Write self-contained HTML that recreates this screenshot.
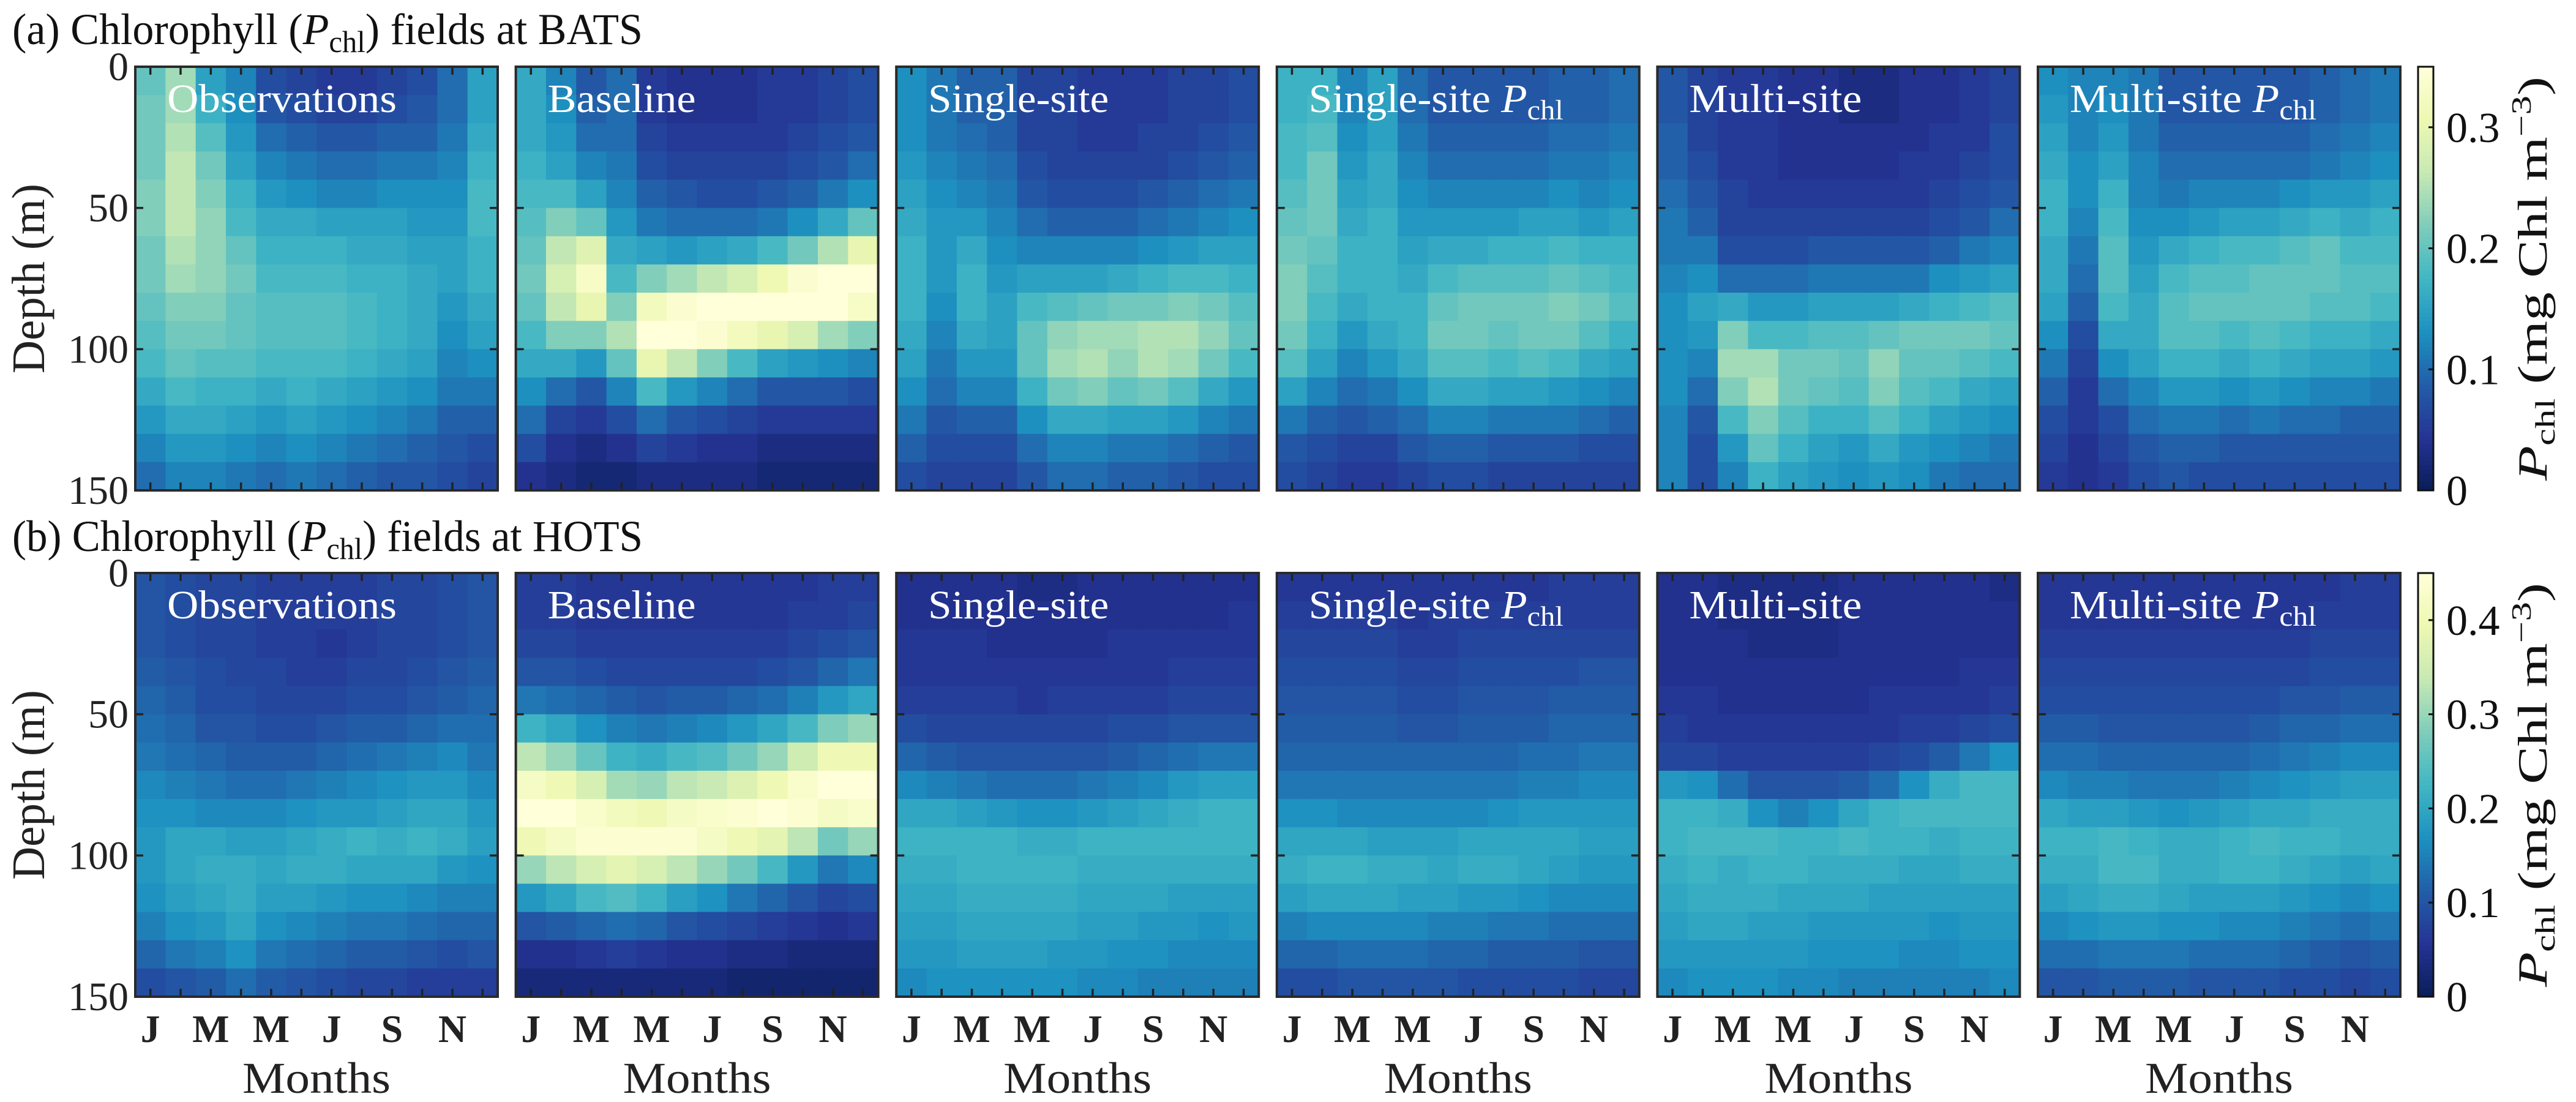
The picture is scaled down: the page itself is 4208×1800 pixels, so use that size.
<!DOCTYPE html>
<html><head><meta charset="utf-8">
<style>
html,body{margin:0;padding:0;background:#fff;}
svg{display:block;font-family:"Liberation Serif","DejaVu Serif",serif;}
</style></head>
<body>
<svg id="fig" width="4208" height="1800" viewBox="0 0 4208 1800" xmlns="http://www.w3.org/2000/svg">
<rect width="4208" height="1800" fill="#fff"/>
<text x="20" y="72" font-size="72" fill="#111" textLength="1030" lengthAdjust="spacingAndGlyphs">(a) Chlorophyll (<tspan font-style="italic">P</tspan><tspan font-size="50" dy="13">chl</tspan><tspan dy="-13">) fields at BATS</tspan></text>
<text x="20" y="900" font-size="72" fill="#111" textLength="1030" lengthAdjust="spacingAndGlyphs">(b) Chlorophyll (<tspan font-style="italic">P</tspan><tspan font-size="50" dy="13">chl</tspan><tspan dy="-13">) fields at HOTS</tspan></text>
<g id="plots"></g>
</svg>
<script>
const months = ["J","F","M","A","M","J","J","A","S","O","N","D"];
const monthTickLabels = ["J","M","M","J","S","N"];
const depthEdges = [0,10,20,30,40,50,60,70,80,90,100,110,120,130,140,150];
const depthTicks = [0,50,100,150];
const panelTitles = ["Observations","Baseline","Single-site","Single-site P","Multi-site","Multi-site P"];
const batsTicks = [0,0.1,0.2,0.3];
const hotsTicks = [0,0.1,0.2,0.3,0.4];
const batsMax = 0.35;
const hotsMax = 0.45;

// BATS fields: rows = depth bins (0-10 ... 140-150 m), columns = months J..D
const batsObs = [
[0.20,0.24,0.15,0.12,0.07,0.06,0.05,0.05,0.06,0.07,0.10,0.15],
[0.21,0.24,0.17,0.13,0.08,0.07,0.06,0.06,0.07,0.08,0.10,0.15],
[0.21,0.25,0.19,0.14,0.10,0.09,0.08,0.08,0.09,0.09,0.11,0.16],
[0.21,0.26,0.21,0.15,0.12,0.11,0.10,0.10,0.11,0.11,0.12,0.17],
[0.22,0.26,0.22,0.17,0.14,0.13,0.12,0.12,0.13,0.13,0.13,0.18],
[0.22,0.26,0.23,0.18,0.16,0.16,0.15,0.15,0.15,0.14,0.14,0.18],
[0.21,0.25,0.23,0.20,0.17,0.17,0.17,0.16,0.16,0.15,0.15,0.17],
[0.21,0.24,0.23,0.21,0.18,0.18,0.18,0.17,0.17,0.16,0.15,0.17],
[0.20,0.22,0.22,0.20,0.19,0.19,0.19,0.18,0.17,0.16,0.14,0.16],
[0.19,0.21,0.21,0.20,0.19,0.19,0.19,0.18,0.17,0.16,0.13,0.15],
[0.18,0.20,0.19,0.19,0.18,0.18,0.18,0.17,0.16,0.15,0.12,0.13],
[0.16,0.18,0.17,0.17,0.16,0.17,0.16,0.15,0.14,0.13,0.11,0.11],
[0.14,0.16,0.16,0.15,0.14,0.15,0.14,0.13,0.12,0.11,0.09,0.09],
[0.12,0.14,0.14,0.13,0.12,0.13,0.12,0.11,0.10,0.09,0.08,0.07],
[0.10,0.12,0.12,0.11,0.10,0.11,0.10,0.09,0.08,0.08,0.07,0.06]];
const batsBaseline = [
[0.16,0.12,0.08,0.10,0.05,0.04,0.04,0.04,0.05,0.05,0.06,0.07],
[0.16,0.13,0.09,0.10,0.05,0.04,0.04,0.04,0.05,0.05,0.06,0.07],
[0.16,0.14,0.10,0.10,0.06,0.05,0.05,0.05,0.05,0.06,0.07,0.08],
[0.17,0.15,0.12,0.11,0.07,0.06,0.06,0.06,0.06,0.07,0.08,0.10],
[0.18,0.18,0.15,0.12,0.09,0.08,0.07,0.07,0.08,0.09,0.11,0.13],
[0.19,0.22,0.20,0.14,0.11,0.10,0.10,0.10,0.11,0.13,0.16,0.20],
[0.20,0.26,0.29,0.16,0.15,0.14,0.15,0.16,0.18,0.21,0.25,0.30],
[0.21,0.28,0.33,0.18,0.22,0.24,0.26,0.28,0.31,0.34,0.35,0.35],
[0.20,0.26,0.30,0.22,0.32,0.34,0.35,0.35,0.35,0.35,0.35,0.33],
[0.18,0.22,0.22,0.25,0.35,0.35,0.34,0.32,0.30,0.28,0.24,0.22],
[0.16,0.16,0.14,0.20,0.30,0.26,0.22,0.18,0.15,0.14,0.13,0.12],
[0.13,0.10,0.08,0.12,0.18,0.14,0.12,0.10,0.08,0.08,0.08,0.07],
[0.10,0.06,0.05,0.07,0.10,0.08,0.07,0.06,0.05,0.05,0.05,0.05],
[0.07,0.04,0.03,0.04,0.06,0.05,0.04,0.04,0.03,0.03,0.03,0.03],
[0.04,0.03,0.02,0.02,0.03,0.03,0.03,0.03,0.02,0.02,0.02,0.02]];
const batsSingle = [
[0.13,0.11,0.09,0.09,0.06,0.06,0.05,0.05,0.05,0.06,0.06,0.07],
[0.13,0.11,0.09,0.09,0.06,0.06,0.05,0.05,0.05,0.06,0.06,0.07],
[0.13,0.11,0.10,0.09,0.06,0.06,0.05,0.05,0.06,0.06,0.07,0.08],
[0.14,0.12,0.11,0.10,0.07,0.06,0.06,0.06,0.06,0.07,0.08,0.09],
[0.15,0.13,0.12,0.11,0.08,0.07,0.07,0.07,0.08,0.09,0.10,0.11],
[0.16,0.14,0.14,0.12,0.10,0.09,0.09,0.09,0.10,0.11,0.12,0.13],
[0.17,0.14,0.16,0.13,0.12,0.12,0.12,0.12,0.13,0.14,0.15,0.15],
[0.17,0.14,0.17,0.14,0.15,0.15,0.15,0.16,0.17,0.18,0.18,0.17],
[0.17,0.13,0.17,0.15,0.18,0.19,0.20,0.21,0.21,0.22,0.21,0.19],
[0.16,0.12,0.16,0.15,0.20,0.23,0.24,0.24,0.25,0.25,0.23,0.20],
[0.15,0.11,0.14,0.14,0.20,0.24,0.25,0.23,0.25,0.24,0.21,0.18],
[0.13,0.10,0.12,0.12,0.17,0.21,0.22,0.20,0.21,0.19,0.16,0.14],
[0.11,0.08,0.09,0.09,0.13,0.16,0.16,0.15,0.15,0.14,0.12,0.11],
[0.09,0.07,0.07,0.07,0.10,0.12,0.12,0.11,0.11,0.10,0.09,0.08],
[0.07,0.06,0.06,0.06,0.08,0.10,0.10,0.09,0.09,0.08,0.07,0.07]];
const batsSinglePchl = [
[0.17,0.17,0.12,0.15,0.10,0.08,0.08,0.08,0.08,0.09,0.09,0.10],
[0.17,0.18,0.12,0.15,0.10,0.08,0.08,0.08,0.08,0.09,0.09,0.10],
[0.18,0.19,0.13,0.15,0.11,0.09,0.09,0.09,0.09,0.10,0.10,0.11],
[0.18,0.21,0.14,0.16,0.12,0.10,0.10,0.10,0.10,0.11,0.11,0.12],
[0.19,0.21,0.15,0.16,0.13,0.12,0.12,0.12,0.12,0.13,0.12,0.13],
[0.20,0.21,0.16,0.17,0.14,0.14,0.14,0.14,0.15,0.15,0.14,0.15],
[0.21,0.20,0.17,0.17,0.15,0.16,0.16,0.17,0.17,0.18,0.17,0.17],
[0.22,0.19,0.17,0.17,0.16,0.18,0.19,0.19,0.19,0.20,0.19,0.18],
[0.22,0.18,0.16,0.17,0.17,0.20,0.21,0.21,0.21,0.22,0.21,0.19],
[0.21,0.17,0.14,0.16,0.17,0.21,0.21,0.20,0.21,0.21,0.19,0.17],
[0.19,0.15,0.12,0.14,0.16,0.19,0.19,0.18,0.19,0.18,0.16,0.15],
[0.15,0.12,0.10,0.11,0.13,0.16,0.16,0.15,0.15,0.14,0.13,0.12],
[0.11,0.09,0.08,0.09,0.10,0.12,0.12,0.11,0.11,0.11,0.10,0.09],
[0.08,0.07,0.06,0.06,0.08,0.09,0.09,0.08,0.08,0.08,0.07,0.07],
[0.07,0.06,0.05,0.05,0.06,0.07,0.07,0.06,0.06,0.06,0.06,0.06]];
const batsMulti = [
[0.08,0.06,0.05,0.05,0.04,0.04,0.03,0.03,0.04,0.04,0.05,0.06],
[0.08,0.06,0.05,0.05,0.04,0.04,0.03,0.03,0.04,0.04,0.05,0.06],
[0.09,0.06,0.05,0.05,0.04,0.04,0.04,0.04,0.04,0.05,0.05,0.07],
[0.09,0.07,0.05,0.05,0.04,0.04,0.04,0.04,0.05,0.05,0.06,0.07],
[0.10,0.08,0.06,0.05,0.05,0.05,0.05,0.05,0.05,0.06,0.07,0.08],
[0.11,0.09,0.06,0.06,0.06,0.06,0.06,0.06,0.06,0.07,0.08,0.10],
[0.11,0.11,0.07,0.07,0.07,0.08,0.08,0.08,0.08,0.09,0.11,0.12],
[0.12,0.13,0.10,0.10,0.10,0.11,0.11,0.11,0.11,0.13,0.14,0.15],
[0.13,0.15,0.16,0.14,0.14,0.15,0.15,0.15,0.16,0.17,0.18,0.19],
[0.13,0.14,0.22,0.18,0.18,0.19,0.19,0.20,0.21,0.21,0.21,0.20],
[0.13,0.12,0.24,0.24,0.21,0.21,0.20,0.23,0.20,0.20,0.19,0.18],
[0.13,0.10,0.22,0.25,0.21,0.20,0.19,0.22,0.19,0.18,0.16,0.15],
[0.12,0.08,0.18,0.22,0.19,0.17,0.17,0.19,0.17,0.15,0.14,0.13],
[0.12,0.07,0.14,0.20,0.17,0.15,0.14,0.16,0.14,0.13,0.12,0.11],
[0.12,0.07,0.12,0.17,0.15,0.14,0.13,0.14,0.13,0.11,0.10,0.10]];
const batsMultiPchl = [
[0.13,0.12,0.12,0.11,0.08,0.08,0.08,0.08,0.08,0.09,0.10,0.11],
[0.14,0.12,0.13,0.11,0.08,0.08,0.08,0.08,0.08,0.09,0.10,0.11],
[0.15,0.12,0.14,0.11,0.09,0.09,0.09,0.09,0.09,0.10,0.11,0.12],
[0.16,0.13,0.15,0.12,0.10,0.10,0.10,0.10,0.10,0.11,0.12,0.13],
[0.17,0.13,0.17,0.12,0.11,0.12,0.12,0.12,0.13,0.14,0.14,0.15],
[0.17,0.12,0.18,0.13,0.13,0.14,0.15,0.15,0.16,0.17,0.16,0.17],
[0.16,0.11,0.19,0.14,0.16,0.17,0.18,0.18,0.19,0.20,0.18,0.18],
[0.16,0.10,0.19,0.15,0.18,0.19,0.19,0.20,0.20,0.20,0.19,0.19],
[0.15,0.09,0.18,0.16,0.19,0.20,0.20,0.20,0.20,0.19,0.19,0.18],
[0.13,0.07,0.16,0.16,0.19,0.19,0.18,0.19,0.18,0.17,0.17,0.16],
[0.11,0.06,0.13,0.15,0.17,0.17,0.16,0.17,0.16,0.15,0.15,0.14],
[0.09,0.05,0.10,0.12,0.14,0.14,0.13,0.14,0.13,0.12,0.12,0.11],
[0.07,0.05,0.07,0.10,0.11,0.11,0.10,0.11,0.10,0.10,0.09,0.09],
[0.06,0.04,0.06,0.08,0.09,0.09,0.08,0.08,0.08,0.08,0.08,0.08],
[0.05,0.04,0.05,0.07,0.08,0.07,0.07,0.07,0.07,0.07,0.07,0.07]];

// HOTS fields
const hotsObs = [
[0.10,0.09,0.08,0.08,0.07,0.07,0.07,0.07,0.08,0.08,0.09,0.10],
[0.10,0.09,0.08,0.08,0.07,0.07,0.07,0.07,0.08,0.08,0.09,0.10],
[0.10,0.09,0.08,0.08,0.07,0.07,0.06,0.07,0.08,0.08,0.09,0.10],
[0.11,0.10,0.09,0.08,0.08,0.07,0.07,0.08,0.08,0.09,0.10,0.11],
[0.12,0.11,0.09,0.09,0.08,0.08,0.08,0.09,0.09,0.10,0.11,0.12],
[0.13,0.12,0.10,0.10,0.09,0.09,0.10,0.11,0.11,0.12,0.13,0.13],
[0.14,0.13,0.12,0.11,0.11,0.11,0.12,0.13,0.14,0.15,0.16,0.14],
[0.16,0.15,0.14,0.13,0.13,0.14,0.15,0.16,0.17,0.18,0.18,0.16],
[0.17,0.17,0.16,0.16,0.16,0.17,0.18,0.18,0.19,0.20,0.20,0.18],
[0.18,0.20,0.20,0.19,0.19,0.20,0.21,0.22,0.21,0.22,0.21,0.19],
[0.18,0.20,0.21,0.21,0.20,0.21,0.21,0.20,0.20,0.20,0.18,0.17],
[0.17,0.19,0.20,0.21,0.19,0.19,0.18,0.17,0.17,0.16,0.15,0.15],
[0.15,0.17,0.18,0.20,0.17,0.16,0.15,0.14,0.14,0.13,0.12,0.12],
[0.12,0.14,0.15,0.17,0.14,0.13,0.12,0.11,0.11,0.10,0.09,0.10],
[0.09,0.10,0.11,0.13,0.11,0.10,0.09,0.08,0.08,0.07,0.07,0.07]];
const hotsBaseline = [
[0.07,0.07,0.06,0.06,0.06,0.06,0.06,0.06,0.06,0.06,0.07,0.07],
[0.07,0.07,0.06,0.06,0.06,0.06,0.06,0.06,0.06,0.07,0.07,0.08],
[0.08,0.08,0.07,0.07,0.07,0.07,0.07,0.07,0.07,0.08,0.09,0.10],
[0.10,0.10,0.09,0.08,0.08,0.08,0.08,0.08,0.09,0.10,0.12,0.14],
[0.14,0.13,0.12,0.11,0.10,0.11,0.11,0.12,0.13,0.15,0.18,0.20],
[0.22,0.20,0.17,0.15,0.14,0.15,0.16,0.18,0.20,0.23,0.28,0.30],
[0.33,0.30,0.26,0.22,0.21,0.23,0.24,0.27,0.30,0.35,0.40,0.40],
[0.42,0.40,0.36,0.31,0.30,0.33,0.34,0.37,0.40,0.43,0.45,0.45],
[0.45,0.45,0.43,0.41,0.40,0.42,0.43,0.44,0.45,0.44,0.42,0.43],
[0.40,0.42,0.44,0.44,0.44,0.44,0.42,0.40,0.38,0.33,0.27,0.30],
[0.30,0.33,0.36,0.38,0.36,0.33,0.30,0.27,0.23,0.18,0.14,0.16],
[0.18,0.20,0.23,0.24,0.22,0.19,0.17,0.14,0.12,0.10,0.08,0.09],
[0.10,0.11,0.12,0.13,0.12,0.10,0.09,0.08,0.07,0.06,0.05,0.06],
[0.05,0.05,0.06,0.07,0.06,0.05,0.05,0.04,0.04,0.03,0.03,0.03],
[0.03,0.03,0.03,0.03,0.03,0.03,0.03,0.02,0.02,0.02,0.02,0.02]];
const hotsSingle = [
[0.05,0.05,0.05,0.05,0.04,0.04,0.05,0.05,0.05,0.05,0.05,0.05],
[0.05,0.05,0.05,0.05,0.05,0.05,0.05,0.05,0.05,0.05,0.05,0.06],
[0.06,0.06,0.06,0.05,0.05,0.05,0.05,0.06,0.06,0.06,0.06,0.06],
[0.06,0.06,0.06,0.06,0.06,0.06,0.06,0.06,0.06,0.07,0.07,0.07],
[0.07,0.07,0.07,0.07,0.06,0.07,0.07,0.07,0.07,0.08,0.08,0.08],
[0.09,0.08,0.08,0.08,0.08,0.08,0.08,0.09,0.09,0.10,0.10,0.10],
[0.12,0.11,0.10,0.10,0.10,0.10,0.10,0.11,0.12,0.13,0.14,0.14],
[0.16,0.15,0.14,0.13,0.13,0.13,0.14,0.15,0.16,0.18,0.19,0.19],
[0.20,0.20,0.19,0.18,0.17,0.17,0.18,0.19,0.20,0.21,0.22,0.22],
[0.22,0.22,0.22,0.22,0.21,0.21,0.22,0.22,0.22,0.22,0.22,0.22],
[0.21,0.21,0.22,0.22,0.22,0.22,0.21,0.21,0.21,0.21,0.21,0.21],
[0.20,0.20,0.21,0.21,0.21,0.21,0.20,0.20,0.20,0.19,0.19,0.19],
[0.19,0.19,0.20,0.20,0.20,0.20,0.19,0.19,0.18,0.18,0.17,0.18],
[0.18,0.18,0.19,0.19,0.19,0.18,0.18,0.17,0.17,0.16,0.16,0.16],
[0.16,0.17,0.17,0.17,0.17,0.17,0.16,0.16,0.15,0.15,0.15,0.15]];
const hotsSinglePchl = [
[0.06,0.06,0.06,0.06,0.06,0.06,0.06,0.06,0.06,0.07,0.07,0.07],
[0.07,0.07,0.07,0.07,0.06,0.07,0.07,0.07,0.07,0.07,0.07,0.07],
[0.08,0.08,0.08,0.08,0.07,0.07,0.08,0.08,0.08,0.08,0.08,0.08],
[0.09,0.09,0.09,0.09,0.08,0.08,0.09,0.09,0.09,0.09,0.10,0.10],
[0.10,0.10,0.10,0.10,0.09,0.09,0.10,0.10,0.10,0.11,0.11,0.11],
[0.11,0.11,0.11,0.11,0.10,0.10,0.11,0.11,0.11,0.12,0.12,0.12],
[0.12,0.12,0.12,0.12,0.12,0.12,0.12,0.12,0.13,0.13,0.14,0.14],
[0.14,0.14,0.14,0.14,0.14,0.14,0.14,0.14,0.15,0.15,0.16,0.16],
[0.17,0.17,0.16,0.16,0.16,0.16,0.16,0.17,0.18,0.18,0.18,0.18],
[0.20,0.20,0.20,0.19,0.19,0.19,0.20,0.20,0.20,0.20,0.19,0.19],
[0.21,0.22,0.22,0.21,0.21,0.20,0.21,0.21,0.20,0.19,0.18,0.18],
[0.19,0.20,0.20,0.20,0.19,0.19,0.18,0.18,0.17,0.16,0.16,0.16],
[0.15,0.16,0.16,0.16,0.16,0.15,0.15,0.14,0.14,0.13,0.13,0.13],
[0.12,0.12,0.13,0.13,0.13,0.12,0.12,0.11,0.11,0.11,0.10,0.10],
[0.09,0.09,0.10,0.10,0.10,0.10,0.09,0.09,0.09,0.09,0.08,0.08]];
const hotsMulti = [
[0.05,0.05,0.04,0.04,0.04,0.04,0.05,0.05,0.05,0.05,0.05,0.04],
[0.05,0.05,0.04,0.04,0.04,0.04,0.05,0.05,0.05,0.05,0.05,0.05],
[0.05,0.05,0.05,0.04,0.04,0.04,0.05,0.05,0.05,0.05,0.05,0.05],
[0.05,0.05,0.05,0.05,0.05,0.05,0.05,0.05,0.05,0.05,0.06,0.06],
[0.06,0.06,0.05,0.05,0.05,0.05,0.05,0.06,0.06,0.06,0.06,0.07],
[0.07,0.06,0.06,0.06,0.06,0.06,0.06,0.06,0.07,0.07,0.08,0.09],
[0.08,0.08,0.07,0.07,0.07,0.07,0.07,0.08,0.09,0.11,0.14,0.17],
[0.18,0.17,0.13,0.10,0.10,0.10,0.11,0.13,0.17,0.21,0.23,0.23],
[0.22,0.22,0.21,0.17,0.15,0.17,0.20,0.22,0.23,0.23,0.23,0.23],
[0.22,0.23,0.23,0.23,0.22,0.22,0.23,0.22,0.22,0.21,0.22,0.22],
[0.21,0.22,0.21,0.22,0.22,0.21,0.21,0.21,0.20,0.20,0.21,0.21],
[0.20,0.21,0.21,0.21,0.20,0.20,0.20,0.19,0.19,0.19,0.19,0.19],
[0.19,0.20,0.20,0.19,0.19,0.18,0.18,0.18,0.18,0.17,0.18,0.18],
[0.18,0.18,0.18,0.18,0.18,0.17,0.17,0.17,0.16,0.16,0.17,0.17],
[0.16,0.17,0.17,0.17,0.16,0.16,0.15,0.15,0.15,0.15,0.15,0.16]];
const hotsMultiPchl = [
[0.06,0.06,0.06,0.06,0.06,0.06,0.06,0.06,0.06,0.06,0.07,0.07],
[0.06,0.06,0.06,0.06,0.06,0.06,0.06,0.06,0.06,0.07,0.07,0.07],
[0.07,0.07,0.07,0.07,0.07,0.07,0.07,0.07,0.07,0.08,0.08,0.08],
[0.08,0.08,0.08,0.08,0.08,0.08,0.08,0.08,0.08,0.09,0.09,0.09],
[0.09,0.09,0.09,0.09,0.09,0.09,0.09,0.09,0.10,0.10,0.11,0.11],
[0.11,0.11,0.10,0.10,0.10,0.10,0.10,0.11,0.12,0.12,0.13,0.13],
[0.13,0.13,0.12,0.12,0.12,0.12,0.12,0.13,0.14,0.15,0.16,0.16],
[0.16,0.15,0.15,0.14,0.14,0.14,0.15,0.16,0.17,0.18,0.19,0.19],
[0.20,0.19,0.19,0.18,0.17,0.18,0.19,0.20,0.20,0.21,0.21,0.21],
[0.22,0.22,0.23,0.22,0.21,0.21,0.22,0.23,0.22,0.22,0.21,0.21],
[0.21,0.21,0.23,0.23,0.21,0.21,0.22,0.22,0.21,0.20,0.19,0.20],
[0.19,0.20,0.21,0.21,0.20,0.19,0.19,0.19,0.18,0.17,0.16,0.17],
[0.16,0.17,0.18,0.18,0.17,0.17,0.16,0.16,0.15,0.14,0.13,0.14],
[0.13,0.13,0.14,0.14,0.14,0.13,0.13,0.13,0.12,0.11,0.10,0.11],
[0.10,0.10,0.11,0.11,0.11,0.10,0.10,0.10,0.09,0.09,0.08,0.09]];

const batsFields = [batsObs,batsBaseline,batsSingle,batsSinglePchl,batsMulti,batsMultiPchl];
const hotsFields = [hotsObs,hotsBaseline,hotsSingle,hotsSinglePchl,hotsMulti,hotsMultiPchl];

// layout
const NS = "http://www.w3.org/2000/svg";
const L = {x0:221, pitch:621.6, w:592, rows:[{top:109,h:692},{top:936,h:692}], cbX:3950, cbW:25};
const labelWidths = [375,242,295,416,282,403];
const stops = [[0,"#081d58"],[0.125,"#253494"],[0.25,"#225ea8"],[0.375,"#1d91c0"],[0.5,"#41b6c4"],[0.625,"#7fcdbb"],[0.75,"#c7e9b4"],[0.875,"#edf8b1"],[1,"#ffffd9"]];
function hex(c){return [parseInt(c.slice(1,3),16),parseInt(c.slice(3,5),16),parseInt(c.slice(5,7),16)];}
function cmap(t){
  t=Math.max(0,Math.min(1,t));
  for(let i=1;i<stops.length;i++){
    if(t<=stops[i][0]){
      const a=hex(stops[i-1][1]),b=hex(stops[i][1]);
      const f=(t-stops[i-1][0])/(stops[i][0]-stops[i-1][0]);
      return "rgb("+a.map((v,k)=>Math.round(v+(b[k]-v)*f)).join(",")+")";
    }
  }
  return stops[stops.length-1][1];
}
function el(tag,attrs,parent){const e=document.createElementNS(NS,tag);for(const k in attrs)e.setAttribute(k,attrs[k]);parent.appendChild(e);return e;}
const root=document.getElementById("plots");

[[batsFields,batsMax,batsTicks,"bats"],[hotsFields,hotsMax,hotsTicks,"hots"]].forEach((cfg,ri)=>{
  const [fields,vmax,cticks,site]=cfg;
  const R=L.rows[ri];
  const yScale=d=>R.top+d/150*R.h;
  fields.forEach((field,pi)=>{
    const px=L.x0+pi*L.pitch;
    const xScale=m=>px+m/12*L.w;
    const g=el("g",{},root);
    
    
    field.forEach((row,di)=>{
      row.forEach((v,mi)=>{
        const x1=xScale(mi),x2=xScale(mi+1),y1=yScale(depthEdges[di]),y2=yScale(depthEdges[di+1]);
        const r=el("rect",{x:x1,y:y1,width:x2-x1+0.6,height:y2-y1+0.6,fill:cmap(v/vmax)},g);
        
        
      });
    });
    for(let m=0;m<12;m++){
      const x=xScale(m+0.5);
      el("line",{x1:x,x2:x,y1:R.top,y2:R.top+13,stroke:"#222","stroke-width":3.5},g);
      el("line",{x1:x,x2:x,y1:R.top+R.h,y2:R.top+R.h-13,stroke:"#222","stroke-width":3.5},g);
    }
    depthTicks.forEach(d=>{
      const y=yScale(d);
      el("line",{x1:px,x2:px+13,y1:y,y2:y,stroke:"#222","stroke-width":3.5},g);
      el("line",{x1:px+L.w,x2:px+L.w-13,y1:y,y2:y,stroke:"#222","stroke-width":3.5},g);
    });
    const fr=el("rect",{x:px,y:R.top,width:L.w,height:R.h,fill:"none",stroke:"#2a2a2a","stroke-width":4},g);
    
    
    const t=el("text",{x:px+52,y:R.top+74,"font-size":66,fill:"#fff",textLength:labelWidths[pi],lengthAdjust:"spacingAndGlyphs"},g);
    
    
    if(pi===3||pi===5){
      t.textContent=panelTitles[pi].slice(0,-1);
      const ts=el("tspan",{"font-style":"italic"},t);ts.textContent="P";
      const ts2=el("tspan",{"font-size":46,dy:12},t);ts2.textContent="chl";
    } else t.textContent=panelTitles[pi];
    if(ri===1){
      monthTickLabels.forEach((lab,k)=>{
        const xt=el("text",{x:xScale(2*k+0.5),y:1702,"font-size":64,"text-anchor":"middle",fill:"#222","font-weight":"bold"},g);
        
        
        xt.textContent=lab;
      });
      const xl=el("text",{x:px+L.w/2,y:1785,"font-size":72,"text-anchor":"middle",fill:"#222",textLength:242,lengthAdjust:"spacingAndGlyphs"},g);
      
      
      xl.textContent="Months";
    }
  });
  depthTicks.forEach(d=>{
    const yt=el("text",{x:210,y:yScale(d)+22,"font-size":66,"text-anchor":"end",fill:"#222"},root);
    
    
    yt.textContent=d;
  });
  const cy=R.top+R.h/2;
  const ya=el("text",{x:0,y:0,"font-size":76,"text-anchor":"middle",fill:"#222",textLength:310,lengthAdjust:"spacingAndGlyphs",transform:"translate(72,"+cy+") rotate(-90)"},root);
  
  
  ya.textContent="Depth (m)";
  const cg=el("g",{},root);
  
  
  const N=100;
  for(let i=0;i<N;i++){
    const y1=R.top+R.h*(1-(i+1)/N);
    el("rect",{x:L.cbX,y:y1,width:L.cbW,height:R.h/N+0.6,fill:cmap((i+0.5)/N)},cg);
  }
  el("rect",{x:L.cbX,y:R.top,width:L.cbW,height:R.h,fill:"none",stroke:"#111","stroke-width":3},cg);
  cticks.forEach(v=>{
    const y=R.top+R.h*(1-v/vmax);
    el("line",{x1:L.cbX+L.cbW,x2:L.cbX+L.cbW-8,y1:y,y2:y,stroke:"#111","stroke-width":3},cg);
    const tt=el("text",{x:3996,y:y+24,"font-size":70,fill:"#111"},cg);
    
    
    tt.textContent=v===0?"0":v.toFixed(1);
  });
  const cl=el("text",{x:0,y:0,"font-size":68,"text-anchor":"middle",fill:"#111",textLength:660,lengthAdjust:"spacingAndGlyphs",transform:"translate(4160,"+cy+") rotate(-90)"},cg);
  
  
  const a=el("tspan",{"font-style":"italic"},cl);a.textContent="P";
  const b=el("tspan",{"font-size":46,dy:13},cl);b.textContent="chl";
  const c=el("tspan",{dy:-13},cl);c.textContent=" (mg Chl m";
  const d=el("tspan",{"font-size":46,dy:-26},cl);d.textContent="−3";
  const e=el("tspan",{dy:26},cl);e.textContent=")";
});
</script>
</body></html>
